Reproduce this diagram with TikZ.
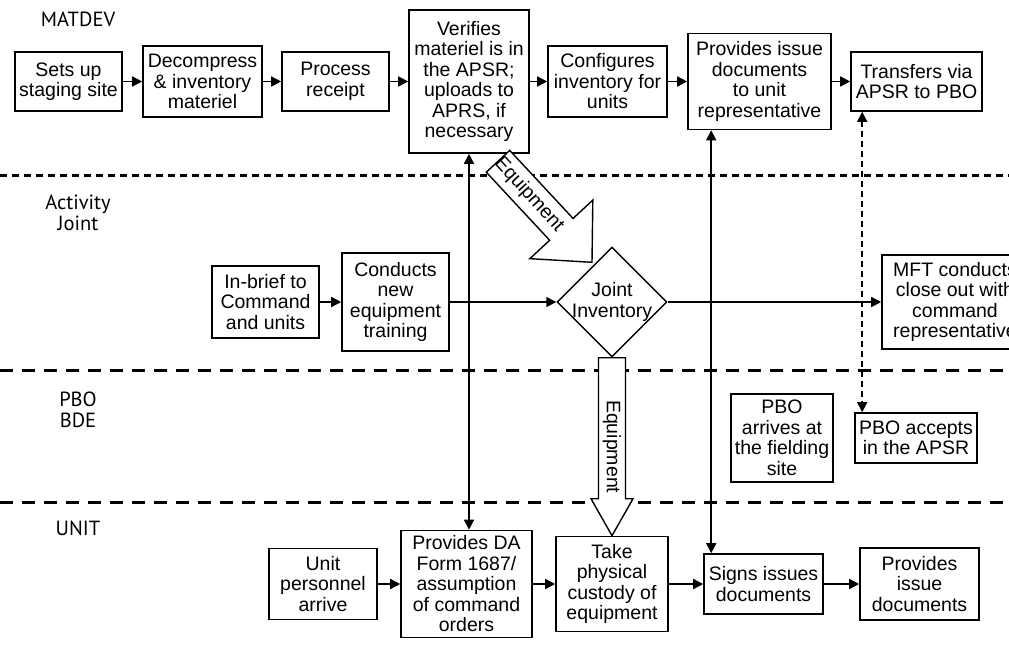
\documentclass[tikz,border=0pt]{standalone}
\usepackage{fontspec}
\setmainfont{Liberation Sans}
\newfontfamily\lanefont{PT Sans}
\usetikzlibrary{arrows.meta,shapes.geometric,calc}

\begin{document}
\begin{tikzpicture}[x=1pt,y=-1pt,
  txt/.style={align=center, inner sep=1pt, font=\fontsize{19.5}{20.5}\selectfont},
  box/.style={txt, draw, line width=1.6pt},
  lane/.style={align=center, inner sep=0pt, font=\lanefont\fontsize{20.5}{21.5}\selectfont},
  flow/.style={line width=1.5pt, -{Triangle[length=10pt,width=10pt]}},
  both/.style={line width=1.5pt, {Triangle[length=10pt,width=10pt]}-{Triangle[length=10pt,width=10pt]}},
  lanesep/.style={line width=3pt, dash pattern=on 13pt off 9pt},
  blockarrow/.style={draw, fill=white, line width=1.4pt, line join=miter},
]
\useasboundingbox (0,0) rectangle (1009,661);
\fill[white] (0,0) rectangle (1009,661);

% swimlane separators
\draw[lanesep, dash pattern=on 7pt off 5pt] (0,175) -- (1009,175);
\draw[lanesep] (0,370) -- (1009,370);
\draw[lanesep] (0,502) -- (1009,502);

% swimlane names
\node[lane] (lmat) at (78,19) {MATDEV};
\node[lane] (ljoint) at (78,213) {Activity\\Joint};
\node[lane] (lpbo) at (78,410) {PBO\\BDE};
\node[lane] (lunit) at (78,528) {UNIT};

% MATDEV lane
\node[box, minimum width=107pt, minimum height=59pt] (setup) at (68.5,81.5) {Sets up\\staging site};
\node[box, minimum width=119pt, minimum height=71pt] (decomp) at (202.5,81.5) {Decompress\\\& inventory\\materiel};
\node[box, minimum width=107pt, minimum height=59pt] (receipt) at (335.5,81.5) {Process\\receipt};
\node[box, minimum width=120pt, minimum height=143pt] (verify) at (469,81.5) {Verifies\\materiel is in\\the APSR;\\uploads to\\APRS, if\\necessary};
\node[box, minimum width=119pt, minimum height=71pt] (config) at (607.5,81.5) {Configures\\inventory for\\units};
\node[box, minimum width=143pt, minimum height=96pt] (issue) at (759.5,81.5) {Provides issue\\documents\\to unit\\representative};
\node[box, minimum width=131pt, minimum height=59pt] (transfer) at (916.5,81.5) {Transfers via\\APSR to PBO};

% Joint activity lane
\node[box, minimum width=107pt, minimum height=72pt] (inbrief) at (265.5,302) {In-brief to\\Command\\and units};
\node[box, minimum width=107pt, minimum height=98pt] (conducts) at (395.5,302) {Conducts\\new\\equipment\\training};
\node[diamond, draw, line width=1.4pt, minimum width=110pt, minimum height=110pt, inner sep=0pt] (joint) at (612,302) {};
\node[txt] (jointtxt) at (joint) {Joint\\Inventory};
\node[box, minimum width=146pt, minimum height=94pt] (mft) at (955,302) {MFT conducts\\close out with\\command\\representative};

% PBO lane
\node[box, minimum width=102pt, minimum height=88pt] (pboarr) at (782,438) {PBO\\arrives at\\the fielding\\site};
\node[box, minimum width=122pt, minimum height=50pt] (pboacc) at (916,438) {PBO accepts\\in the APSR};

% Unit lane
\node[box, minimum width=108pt, minimum height=71pt] (unitarr) at (323,584) {Unit\\personnel\\arrive};
\node[box, minimum width=131pt, minimum height=107pt] (daform) at (466.5,584) {Provides DA\\Form 1687/\\assumption\\of command\\orders};
\node[box, minimum width=112pt, minimum height=95pt] (custody) at (612,584) {Take\\physical\\custody of\\equipment};
\node[box, minimum width=119pt, minimum height=60pt] (signs) at (763.5,584) {Signs issues\\documents};
\node[box, minimum width=119pt, minimum height=72pt] (provides) at (919.5,584) {Provides\\issue\\documents};

% flow along the lanes
\draw[flow] (setup) -- (decomp);
\draw[flow] (decomp) -- (receipt);
\draw[flow] (receipt) -- (verify);
\draw[flow] (verify) -- (config);
\draw[flow] (config) -- (issue);
\draw[flow] (issue) -- (transfer);

\draw[flow] (inbrief) -- (conducts);
\draw[flow] (conducts) -- (joint.west);
\draw[flow] (joint.east) -- (mft);

\draw[flow] (unitarr) -- (daform);
\draw[flow] (daform) -- (custody);
\draw[flow] (custody) -- (signs);
\draw[flow] (signs) -- (provides);

% links between lanes
\draw[both] (verify.south) -- (verify.south |- daform.north);
\path ([xshift=8pt]signs.north west) coordinate (sx);
\draw[both] (sx |- issue.south) -- (sx);
\path ([xshift=8pt]pboacc.north west) coordinate (dx);
\draw[both, dash pattern=on 6pt off 4pt] (dx |- transfer.south) -- (dx);

% equipment handed to the joint inventory
\coordinate (eqS) at ($(verify.south)+(29,7.5)$);
\coordinate (eqT) at ($(joint.north)+(-20,16)$);
\coordinate (eqB) at ($(eqT)!45pt!(eqS)$);
\draw[blockarrow] ($(eqS)!16pt!90:(eqT)$) -- ($(eqB)!16pt!90:(eqT)$)
  -- ($(eqB)!43pt!90:(eqT)$) -- (eqT) -- ($(eqB)!43pt!-90:(eqT)$)
  -- ($(eqB)!16pt!-90:(eqT)$) -- ($(eqS)!16pt!-90:(eqT)$) -- cycle;
\node[txt, rotate=-47.8] (eqlab1) at ($(eqS)!0.33!(eqT)$) {Equipment};

% equipment handed to the unit
\coordinate (vS) at (joint.south);
\coordinate (vT) at (custody.north);
\draw[blockarrow] ($(vS)+(-13.5,0)$) -- ($(vT)+(-13.5,-37)$) -- ($(vT)+(-21,-37)$)
  -- (vT) -- ($(vT)+(21,-37)$) -- ($(vT)+(13.5,-37)$) -- ($(vS)+(13.5,0)$) -- cycle;
\node[txt, rotate=-90] (eqlab2) at ($(vT)+(0,-89)$) {Equipment};
\end{tikzpicture}
\end{document}
